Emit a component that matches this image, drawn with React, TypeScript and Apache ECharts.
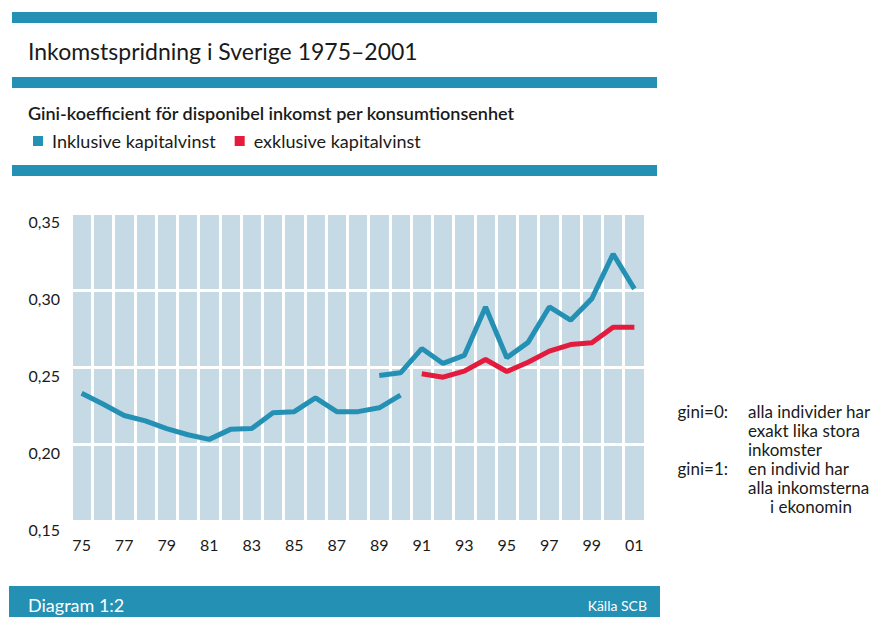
import React, { useEffect, useRef } from "react";
import * as echarts from "echarts";

const years = ["75","76","77","78","79","80","81","82","83","84","85","86","87","88","89","90","91","92","93","94","95","96","97","98","99","00","01"];

// Inklusive kapitalvinst, older series 1975–1990
const inklOld = [0.233, 0.226, 0.2185, 0.215, 0.210, 0.206, 0.203, 0.2095, 0.210, 0.2203, 0.221, 0.230, 0.221, 0.221, 0.2235, 0.2317, null, null, null, null, null, null, null, null, null, null, null];
// Inklusive kapitalvinst, newer series 1989–2001
const inklNew = [null, null, null, null, null, null, null, null, null, null, null, null, null, null, 0.2445, 0.2462, 0.262, 0.2523, 0.2575, 0.289, 0.256, 0.266, 0.289, 0.2804, 0.2944, 0.3234, 0.3007];
// Exklusive kapitalvinst 1991–2001
const exkl = [null, null, null, null, null, null, null, null, null, null, null, null, null, null, null, null, 0.2456, 0.2434, 0.2473, 0.2549, 0.2471, 0.2531, 0.2603, 0.2646, 0.2657, 0.2758, 0.2758];

const yTicks = { min: 0.15, max: 0.35, interval: 0.05 };

const title = "Inkomstspridning i Sverige 1975–2001";
const subtitle = "Gini-koefficient för disponibel inkomst per konsumtionsenhet";
const legendNames = ["Inklusive kapitalvinst", "exklusive kapitalvinst"];
const noteLabels = ["gini=0:", "gini=1:"];
const noteLines = ["alla individer har", "exakt lika stora", "inkomster", "en individ har", "alla inkomsterna", "i ekonomin"];
const footerLeft = "Diagram 1:2";
const footerRight = "Källa SCB";

const BLUE = "#2490b4";
const RED = "#e31b3d";
const FONT = "Lato";

export default function App() {
  const ref = useRef<HTMLDivElement>(null);
  useEffect(() => {
    if (!ref.current) return;
    const chart = echarts.init(ref.current, null, { renderer: "svg" });
    const band = (x: number, y: number, w: number, h: number) => ({
      type: "rect", shape: { x, y, width: w, height: h }, style: { fill: BLUE }, silent: true,
    });
    const txt = (x: number, y: number, text: string, opts: any = {}) => ({
      type: "text", x, y,
      style: { text, fontFamily: FONT, fontSize: 17, fill: "#1a1a1a", verticalAlign: "middle", align: "left", ...opts },
    });
    const note = (x: number, y: number, text: string, opts: any = {}) =>
      txt(x, y, text, { fontSize: 17, ...opts });
    chart.setOption({
      animation: false,
      backgroundColor: "#ffffff",
      textStyle: { fontFamily: FONT },
      grid: { left: 71, top: 213, width: 574, height: 308, show: true, backgroundColor: "#c6dae6", borderWidth: 0 },
      legend: {
        left: 33, top: 132, padding: 0, itemWidth: 10, itemHeight: 10, itemGap: 19, icon: "rect",
        data: legendNames,
        textStyle: { fontFamily: FONT, fontSize: 18, color: "#1a1a1a", padding: [0, 0, 0, 4] },
      },
      xAxis: {
        type: "category", data: years, boundaryGap: true,
        axisLine: { show: false }, axisTick: { show: false },
        axisLabel: { interval: 1, fontFamily: FONT, fontSize: 16, color: "#1a1a1a", margin: 15 },
        splitLine: { show: true, interval: 0, lineStyle: { color: "#ffffff", width: 3 } },
      },
      yAxis: {
        type: "value", min: yTicks.min, max: yTicks.max, interval: yTicks.interval,
        axisLine: { show: false }, axisTick: { show: false },
        axisLabel: {
          fontFamily: FONT, fontSize: 16, color: "#1a1a1a", margin: 11, verticalAlign: "top",
          formatter: (v: number) => v.toFixed(2).replace(".", ","),
        },
        splitLine: { show: true, lineStyle: { color: "#ffffff", width: 3 } },
      },
      series: [
        { name: legendNames[0], type: "line", data: inklOld, symbol: "none", color: BLUE, lineStyle: { color: BLUE, width: 5 } },
        { name: legendNames[0], type: "line", data: inklNew, symbol: "none", color: BLUE, lineStyle: { color: BLUE, width: 5 } },
        { name: legendNames[1], type: "line", data: exkl, symbol: "none", color: RED, lineStyle: { color: RED, width: 5 } },
      ],
      graphic: [
        band(12, 12, 645, 11),
        band(12, 77, 645, 11),
        band(12, 165, 645, 11),
        band(9, 586, 651, 31),
        txt(28, 51, title, { fontSize: 23 }),
        txt(28, 113, subtitle, { fontSize: 18, fontWeight: 600 }),
        note(728, 411, noteLabels[0], { align: "right" }),
        note(748, 411, noteLines[0]),
        note(748, 430, noteLines[1]),
        note(748, 449, noteLines[2]),
        note(728, 468, noteLabels[1], { align: "right" }),
        note(748, 468, noteLines[3]),
        note(748, 487, noteLines[4]),
        note(770, 506, noteLines[5]),
        txt(28, 605, footerLeft, { fill: "#ffffff", fontSize: 18 }),
        txt(647, 605, footerRight, { fill: "#ffffff", fontSize: 14, align: "right" }),
      ],
    });
    return () => chart.dispose();
  }, []);
  return <div ref={ref} style={{ position: "fixed", left: 0, top: 0, width: 884, height: 617 }} />;
}
